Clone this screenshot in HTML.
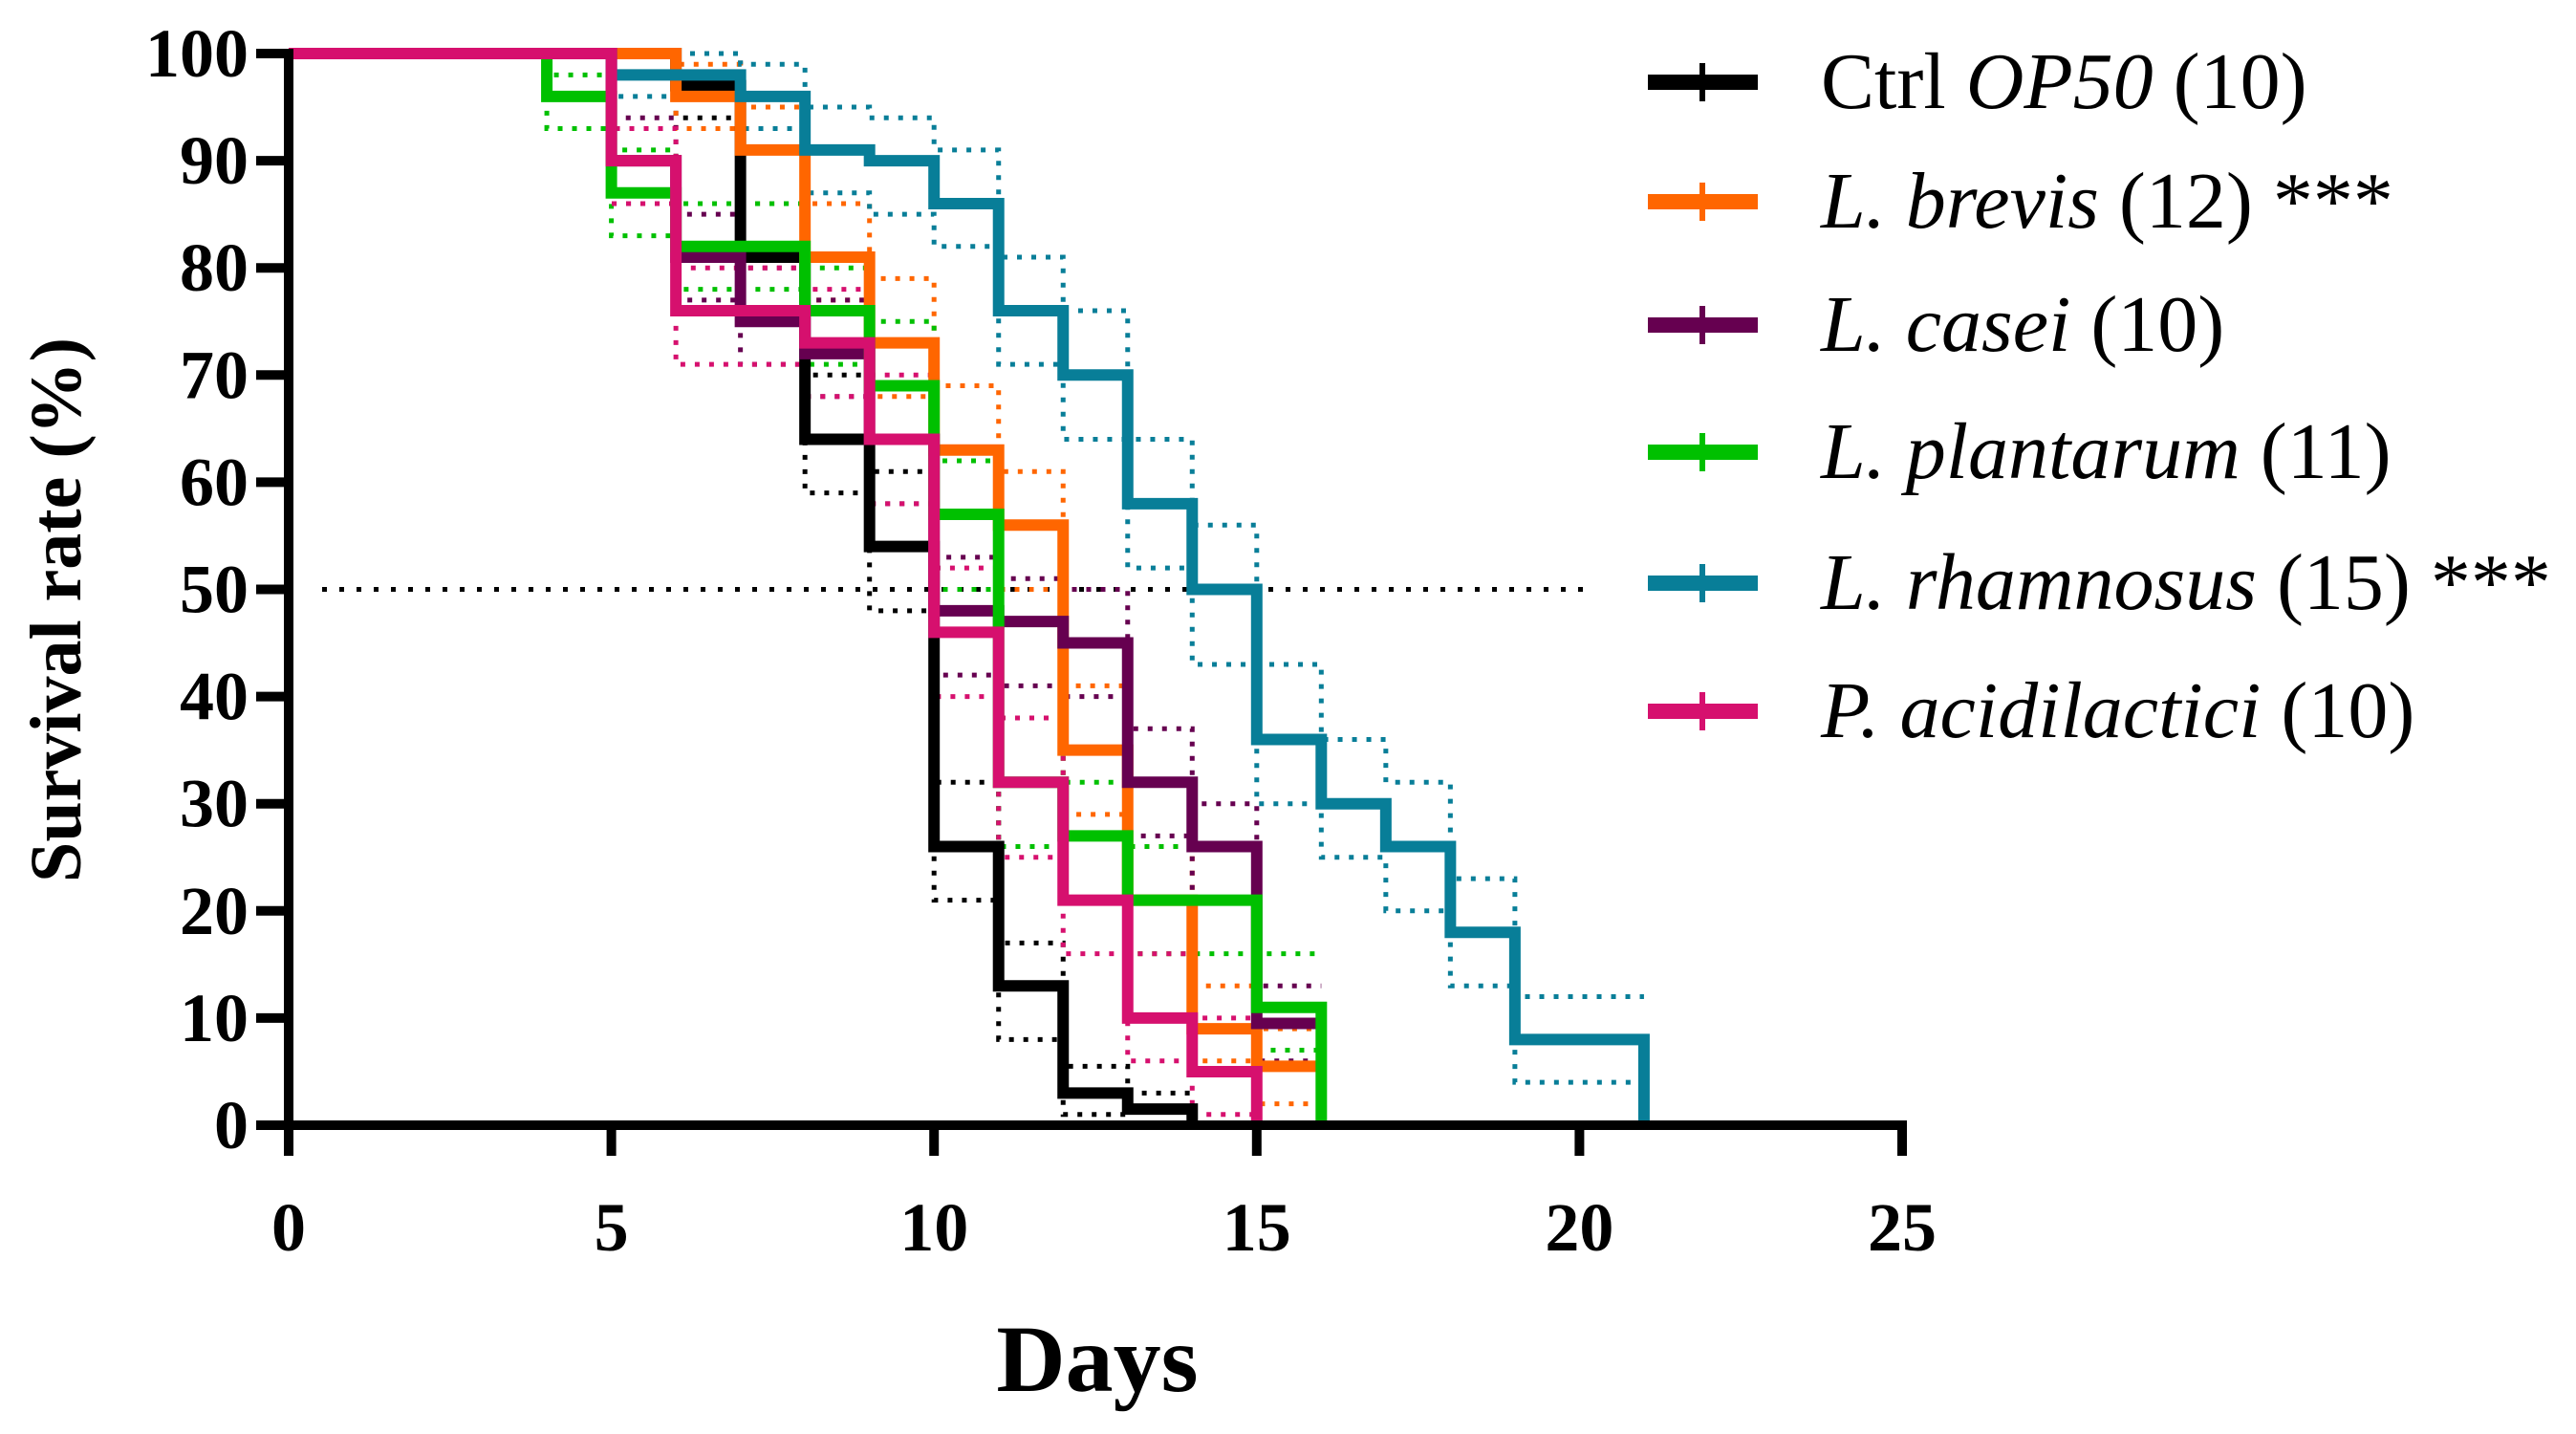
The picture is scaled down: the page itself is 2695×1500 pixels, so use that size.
<!DOCTYPE html>
<html><head><meta charset="utf-8"><style>
html,body{margin:0;padding:0;background:#fff;}
svg{display:block;}
text{font-family:"Liberation Serif",serif;}
</style></head><body>
<svg id="chart" width="2695" height="1500" viewBox="0 0 2695 1500" xmlns="http://www.w3.org/2000/svg"></svg>
<script>
const xTicks=[0,5,10,15,20,25];
const yTicks=[0,10,20,30,40,50,60,70,80,90,100];
const seriesNames=["Ctrl","L. brevis","L. casei","L. plantarum","L. rhamnosus","P. acidilactici"];
const ctrlDays=[0,6,7,8,9,10,11,12,13,14];
const ctrlSurv=[100,97,81,64,54,26,13,3,1.5,0];
const ctrlUpper=[100,100,86,70,61,32,17,5.5,3];
const ctrlLower=[100,94,75,59,48,21,8,1,0];
const brevisDays=[0,6,7,8,9,10,11,12,13,14,15,16];
const brevisSurv=[100,96,91,81,73,63,56,35,21,9,5.5,5.5];
const brevisUpper=[100,99,95,86,79,69,61,41,26,13,9];
const brevisLower=[100,93,86,77,68,57,50,29,16,6,2];
const caseiDays=[0,5,6,7,8,9,10,11,12,13,14,15,16];
const caseiSurv=[100,90,81,75,72,64,48,47,45,32,26,9.5,9.5];
const caseiUpper=[100,94,85,80,77,69,53,51,50,37,30,13];
const caseiLower=[100,86,77,71,68,58,42,41,40,27,21,6];
const plantDays=[0,4,5,6,8,9,10,11,12,13,15,16];
const plantSurv=[100,96,87,82,76,69,57,32,27,21,11,0];
const plantUpper=[100,98,91,86,80,75,62,38,32,26,16];
const plantLower=[100,93,83,78,71,64,50,26,21,16,7];
const rhamDays=[0,5,7,8,9,10,11,12,13,14,15,16,17,18,19,21];
const rhamSurv=[100,98,96,91,90,86,76,70,58,50,36,30,26,18,8,0];
const rhamUpper=[100,100,99,95,94,91,81,76,64,56,43,36,32,23,12];
const rhamLower=[100,96,93,87,85,82,71,64,52,43,30,25,20,13,4];
const pedDays=[0,5,6,8,9,10,11,12,13,14,15];
const pedSurv=[100,90,76,73,64,46,32,21,10,5,0];
const pedUpper=[100,93,80,78,70,52,38,27,16,10];
const pedLower=[100,86,71,68,58,40,25,16,6,1];

const X0=302,X1=1990,Y0=1177,Y1=56;
const xs=d=>X0+(X1-X0)*d/25;
const ys=v=>Y0-(Y0-Y1)*v/100;
const svg=document.getElementById('chart');
const NS='http://www.w3.org/2000/svg';
function mk(tag,attrs,parent){const e=document.createElementNS(NS,tag);for(const k in attrs)e.setAttribute(k,attrs[k]);(parent||svg).appendChild(e);return e;}

const series=[
 {days:ctrlDays,surv:ctrlSurv,up:ctrlUpper,lo:ctrlLower,color:"#000000",key:"ctrl"},
 {days:brevisDays,surv:brevisSurv,up:brevisUpper,lo:brevisLower,color:"#ff6600",key:"brevis"},
 {days:caseiDays,surv:caseiSurv,up:caseiUpper,lo:caseiLower,color:"#660050",key:"casei"},
 {days:plantDays,surv:plantSurv,up:plantUpper,lo:plantLower,color:"#00c000",key:"plantarum"},
 {days:rhamDays,surv:rhamSurv,up:rhamUpper,lo:rhamLower,color:"#087e98",key:"rhamnosus"},
 {days:pedDays,surv:pedSurv,up:pedUpper,lo:pedLower,color:"#d6106e",key:"acidilactici"}
];
function stepPath(days,vals,n){
  let d='M'+xs(days[0])+','+ys(vals[0]);
  for(let i=1;i<n;i++){d+=' H'+xs(days[i])+' V'+ys(vals[i]);}
  return d;
}
const med=mk('line',{x1:337,y1:ys(50),x2:1657,y2:ys(50),stroke:'#000','stroke-width':5,'stroke-dasharray':'5 13'});


series.forEach(s=>{
  const g=mk('g',{});
  
  
  [s.up,s.lo].forEach(arr=>{
    const n=arr.length;
    let d=stepPath(s.days,arr,n)+' H'+xs(s.days[n]);
    mk('path',{d:d,fill:'none',stroke:s.color,'stroke-width':5,'stroke-dasharray':'5 10'},g);
  });
});
series.forEach(s=>{
  const p=mk('path',{d:stepPath(s.days,s.surv,s.days.length),fill:'none',stroke:s.color,'stroke-width':12});
  
  
});
const ax=mk('g',{});


mk('line',{x1:X0,y1:Y1-5,x2:X0,y2:Y0+32,stroke:'#000','stroke-width':10},ax);
mk('line',{x1:X0-5,y1:Y0,x2:X1+5,y2:Y0,stroke:'#000','stroke-width':10},ax);
yTicks.forEach(v=>{
  mk('line',{x1:X0-34,y1:ys(v),x2:X0,y2:ys(v),stroke:'#000','stroke-width':10},ax);
  const t=mk('text',{x:X0-42,y:ys(v)+24,'text-anchor':'end','font-size':72,'font-weight':'bold'},ax);
  t.textContent=v;
  
  
});
xTicks.forEach(v=>{
  mk('line',{x1:xs(v),y1:Y0,x2:xs(v),y2:Y0+32,stroke:'#000','stroke-width':10},ax);
  const t=mk('text',{x:xs(v),y:1308,'text-anchor':'middle','font-size':72,'font-weight':'bold'},ax);
  t.textContent=v;
  
  
});
const yt=mk('text',{x:0,y:0,transform:'translate(84,638) rotate(-90)','text-anchor':'middle','font-size':76,'font-weight':'bold'});
yt.textContent='Survival rate (%)';


const xt=mk('text',{x:1148,y:1455,'text-anchor':'middle','font-size':100,'font-weight':'bold'});
xt.textContent='Days';


const legendY=[86,211,340,473,610,744];
const legendHtml=[
 ['Ctrl ','OP50',' (10)'],
 ['','L. brevis',' (12) ***'],
 ['','L. casei',' (10)'],
 ['','L. plantarum',' (11)'],
 ['','L. rhamnosus',' (15) ***'],
 ['','P. acidilactici',' (10)']
];
const lg=mk('g',{});


series.forEach((s,i)=>{
  const e=mk('g',{},lg);
  
  
  mk('line',{x1:1724,y1:legendY[i],x2:1839,y2:legendY[i],stroke:s.color,'stroke-width':16},e);
  mk('line',{x1:1781,y1:legendY[i]-20,x2:1781,y2:legendY[i]+20,stroke:s.color,'stroke-width':6},e);
  const t=mk('text',{x:1905,y:legendY[i]+27,'font-size':84},e);
  const parts=legendHtml[i];
  const a=mk('tspan',{},t);a.textContent=parts[0];
  const b=mk('tspan',{'font-style':'italic'},t);b.textContent=parts[1];
  const c=mk('tspan',{},t);c.textContent=parts[2];
});
</script>
</body></html>
